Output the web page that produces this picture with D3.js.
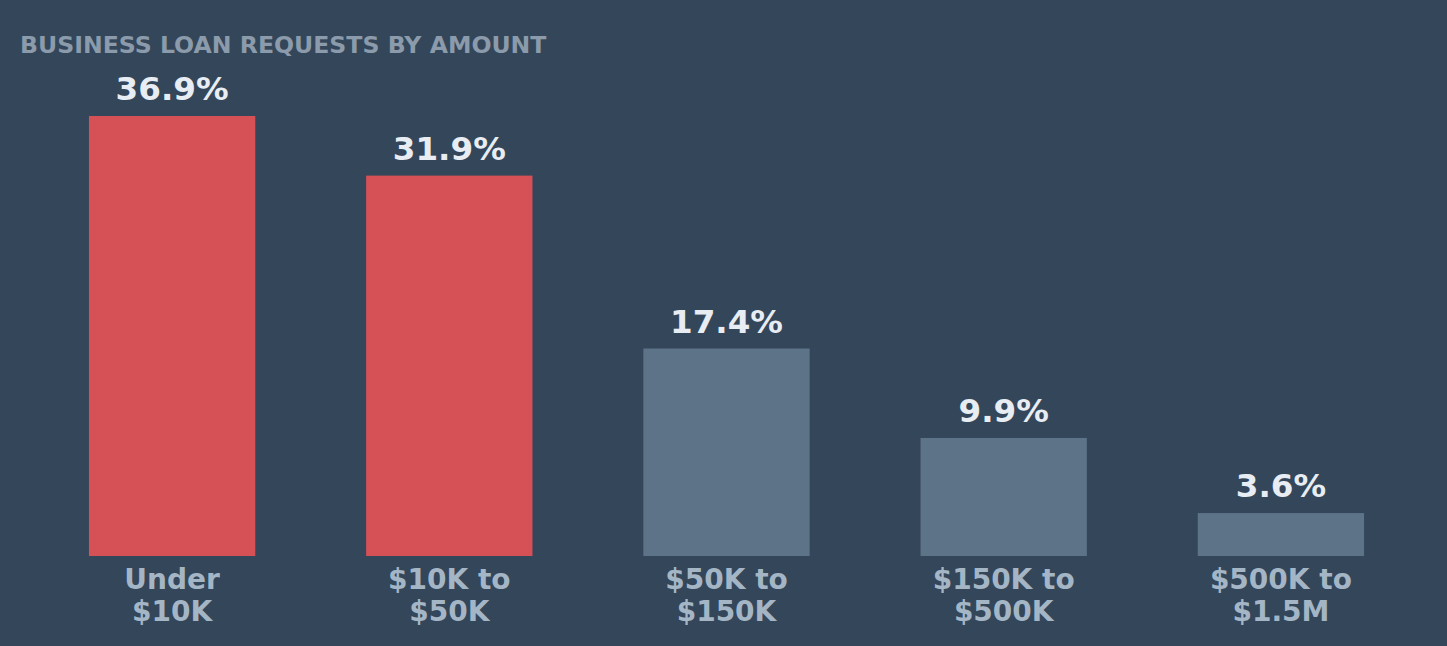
<!DOCTYPE html>
<html>
<head>
<meta charset="utf-8">
<script src="https://cdn.jsdelivr.net/npm/d3@7"></script>
<style>
  html, body { margin: 0; padding: 0; background: #34465a; }
  svg { display: block; font-family: "DejaVu Sans", sans-serif; font-weight: bold; }
</style>
</head>
<body>
<div id="chart"></div>
<script>
var categories = ['Under $10K', '$10K to $50K', '$50K to $150K', '$150K to $500K', '$500K to $1.5M'];
var labelLines = [['Under', '$10K'], ['$10K to', '$50K'], ['$50K to', '$150K'], ['$150K to', '$500K'], ['$500K to', '$1.5M']];
var shares = [36.9, 31.9, 17.4, 9.9, 3.6];
var highlighted = [true, true, false, false, false];

var width = 1447,
    height = 646;

var data = categories.map((c, i) => ({id: c, lines: labelLines[i], y: shares[i], hi: highlighted[i]}));

var svg = d3.select('#chart').append('svg')
    .attr('width', width)
    .attr('height', height);

svg.append('rect')
    .attr('width', width)
    .attr('height', height)
    .attr('fill', '#34465a');

// title
svg.append('text')
    .attr('x', 20)
    .attr('y', 53)
    .attr('fill', '#8b9bab')
    .style('font-size', '23.6px')
    .text('BUSINESS LOAN REQUESTS BY AMOUNT');

var xScale = d3.scaleBand()
    .domain(data.map((d) => d.id))
    .range([33.5, 1419.5])
    .paddingInner(0.4)
    .paddingOuter(0.2);

var yScale = d3.scaleLinear()
    .domain([0, 36.9])
    .range([556, 116]);

var g = svg.append('g').attr('class', 'chartG');

g.selectAll('rect.bar')
    .data(data)
    .enter().append('rect')
    .attr('class', 'bar')
    .attr('x', (d) => xScale(d.id))
    .attr('y', (d) => yScale(d.y))
    .attr('width', xScale.bandwidth())
    .attr('height', (d) => yScale(0) - yScale(d.y))
    .attr('fill', (d) => d.hi ? '#d65156' : '#5d7388');

// value labels
g.selectAll('text.value')
    .data(data)
    .enter().append('text')
    .attr('class', 'value')
    .attr('x', (d) => xScale(d.id) + xScale.bandwidth() / 2)
    .attr('y', (d) => yScale(d.y) - 16)
    .attr('text-anchor', 'middle')
    .attr('fill', '#e7edf3')
    .style('font-size', '32.6px')
    .text((d) => d.y.toFixed(1) + '%');

// category labels under the bars
var cats = g.selectAll('text.cat')
    .data(data)
    .enter().append('text')
    .attr('class', 'cat')
    .attr('x', (d) => xScale(d.id) + xScale.bandwidth() / 2)
    .attr('y', 588.5)
    .attr('text-anchor', 'middle')
    .attr('fill', '#a4b6c6')
    .style('font-size', '28px');

cats.selectAll('tspan')
    .data((d) => d.lines.map((l) => ({l: l, x: xScale(d.id) + xScale.bandwidth() / 2})))
    .enter().append('tspan')
    .attr('x', (d) => d.x)
    .attr('dy', (d, i) => i ? 32 : 0)
    .text((d) => d.l);
</script>
</body>
</html>
